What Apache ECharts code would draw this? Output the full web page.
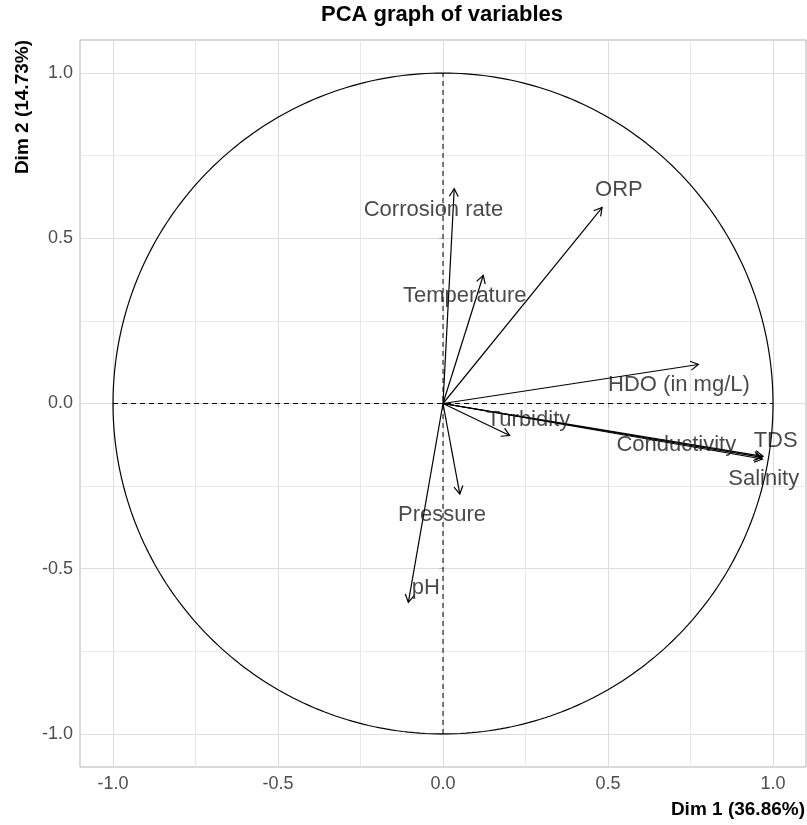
<!DOCTYPE html>
<html><head><meta charset="utf-8">
<script src="https://cdn.jsdelivr.net/npm/echarts@6/dist/echarts.min.js"></script>
<style>html,body{margin:0;padding:0;background:#fff}#c{width:807px;height:825px}</style>
</head><body><div id="c"></div>
<script>
// PCA variable coordinates
const variables = ['Corrosion rate','Temperature','ORP','HDO (in mg/L)','Turbidity','Conductivity','TDS','Salinity','Pressure','pH'];
const dim1 = [0.034, 0.122, 0.482, 0.774, 0.202, 0.966, 0.970, 0.968, 0.051, -0.105];
const dim2 = [0.650, 0.388, 0.593, 0.118, -0.097, -0.163, -0.160, -0.168, -0.274, -0.602];
// label anchor positions (repelled text positions, data units)
const labelDim1 = [-0.029, 0.066, 0.533, 0.715, 0.259, 0.707, 1.008, 0.972, -0.003, -0.052];
const labelDim2 = [0.586, 0.326, 0.645, 0.055, -0.050, -0.125, -0.112, -0.229, -0.336, -0.558];
const tickValues = [-1, -0.5, 0, 0.5, 1];
const minorValues = [-0.75, -0.25, 0.25, 0.75];
const titleText = 'PCA graph of variables';
const xName = 'Dim 1 (36.86%)';
const yName = 'Dim 2 (14.73%)';
const axisMin = -1.1, axisMax = 1.1;
const circleRadius = 1;

const circle = [];
for (let d = 0; d <= 360; d += 1) {
  const a = d * Math.PI / 180;
  circle.push([circleRadius * Math.cos(a), circleRadius * Math.sin(a)]);
}

const chart = echarts.init(document.getElementById('c'), null, {renderer: 'canvas'});
const FONT = 'Liberation Sans, Arial, sans-serif';

function mainAxis(isX) {
  return {
    type: 'value', min: axisMin, max: axisMax,
    axisLine: {show: false},
    axisTick: {show: true, customValues: tickValues, length: 4, lineStyle: {color: '#b3b3b3', width: 1}},
    axisLabel: {show: true, customValues: tickValues, formatter: v => v.toFixed(1),
      color: '#4d4d4d', fontSize: 18, fontFamily: FONT, margin: isX ? 8 : 7},
    splitLine: {show: true, lineStyle: {color: '#dcdcdc', width: 1}}
  };
}
function minorAxis() {
  return {
    type: 'value', min: axisMin, max: axisMax,
    axisLine: {show: false},
    axisTick: {show: false, customValues: minorValues},
    axisLabel: {show: false, customValues: minorValues},
    splitLine: {show: true, lineStyle: {color: '#e8e8e8', width: 1}}
  };
}

const option = {
  animation: false,
  backgroundColor: '#ffffff',
  title: {
    text: titleText, left: 321, top: 4, padding: 0,
    textStyle: {fontFamily: FONT, fontSize: 22, fontWeight: 'bold', color: '#000'}
  },
  grid: {left: 80, right: 1, top: 40, bottom: 58, show: true, borderColor: '#b3b3b3', borderWidth: 1, backgroundColor: 'transparent'},
  xAxis: [mainAxis(true), minorAxis()],
  yAxis: [mainAxis(false), minorAxis()],
  graphic: [
    {type: 'text', x: 805, y: 810, style: {text: xName, align: 'right', verticalAlign: 'middle',
      font: 'bold 19px ' + FONT, fill: '#000'}},
    {type: 'text', x: 23, y: 40, rotation: Math.PI / 2, style: {text: yName, align: 'right', verticalAlign: 'middle',
      font: 'bold 19px ' + FONT, fill: '#000'}}
  ],
  series: [
    {type: 'line', data: circle, showSymbol: false, silent: true, xAxisIndex: 0, yAxisIndex: 0,
      lineStyle: {color: '#000', width: 1.2}, z: 3},
    {type: 'line', data: [[-1, 0], [1, 0]], showSymbol: false, silent: true,
      lineStyle: {color: '#000', width: 1, type: [5, 4]}, z: 3},
    {type: 'line', data: [[0, -1], [0, 1]], showSymbol: false, silent: true,
      lineStyle: {color: '#000', width: 1, type: [5, 4]}, z: 3},
    {
      type: 'custom', z: 4, silent: true,
      data: dim1.map((x, i) => [x, dim2[i]]),
      renderItem: function (params, api) {
        const o = api.coord([0, 0]);
        const t = api.coord([api.value(0), api.value(1)]);
        const ang = Math.atan2(t[1] - o[1], t[0] - o[0]);
        const L = 9, spread = Math.PI / 6;
        const p1 = [t[0] - L * Math.cos(ang - spread), t[1] - L * Math.sin(ang - spread)];
        const p2 = [t[0] - L * Math.cos(ang + spread), t[1] - L * Math.sin(ang + spread)];
        const st = {stroke: '#000', lineWidth: 1.2, fill: null};
        return {type: 'group', children: [
          {type: 'line', shape: {x1: o[0], y1: o[1], x2: t[0], y2: t[1]}, style: st},
          {type: 'polyline', shape: {points: [p1, t, p2]}, style: st}
        ]};
      }
    },
    {
      type: 'scatter', z: 5, silent: true, symbolSize: 1,
      itemStyle: {color: 'transparent'},
      data: variables.map((n, i) => ({name: n, value: [labelDim1[i], labelDim2[i]]})),
      label: {show: true, position: 'inside', formatter: p => p.name,
        fontFamily: FONT, fontSize: 22, color: '#1a1a1a'}
    }
  ]
};
chart.setOption(option);
</script>
</body></html>
